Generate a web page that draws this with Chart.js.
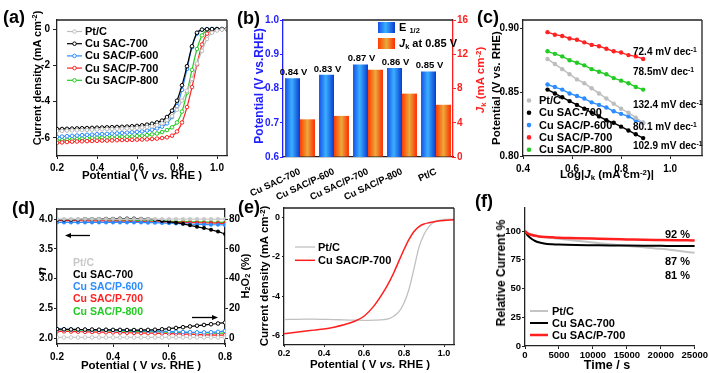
<!DOCTYPE html>
<html>
<head>
<meta charset="utf-8">
<script src="https://cdn.jsdelivr.net/npm/chart.js@4.4.1/dist/chart.umd.min.js"></script>
<style>
body { margin: 0; background: #fff; }
#fig { position: relative; width: 709px; height: 373px; overflow: hidden; font-family: 'Liberation Sans', Arial, sans-serif; font-weight: bold; color: #000; }
#fig canvas { position: absolute; }
.t { position: absolute; white-space: nowrap; line-height: 1; }
.lab { font-size: 18px; }
.h { font-size: 11.5px; transform: translate(-50%, -50%); }
.v { font-size: 11px; transform: translate(-50%, -50%) rotate(-90deg); }
.s { font-size: 10px; transform: translateY(-50%); }
.sw { position: absolute; }
sup { font-size: 0.68em; vertical-align: 0.45em; line-height: 0; }
sub { font-size: 0.68em; vertical-align: -0.25em; line-height: 0; }
</style>
</head>
<body>
<div id="fig">
  <canvas id="cA" width="235" height="185" style="left:0;top:0"></canvas>
  <canvas id="cB" width="240" height="200" style="left:235px;top:0"></canvas>
  <canvas id="cC" width="239" height="190" style="left:470px;top:0"></canvas>
  <canvas id="cD" width="255" height="188" style="left:0;top:185px"></canvas>
  <canvas id="cE" width="215" height="188" style="left:250px;top:185px"></canvas>
  <canvas id="cF" width="239" height="188" style="left:470px;top:185px"></canvas>

  <!-- panel letters -->
  <div class="t lab" style="left:3px;top:8px">(a)</div>
  <div class="t lab" style="left:237px;top:9px">(b)</div>
  <div class="t lab" style="left:477px;top:8px">(c)</div>
  <div class="t lab" style="left:12px;top:199px">(d)</div>
  <div class="t lab" style="left:238px;top:198px">(e)</div>
  <div class="t lab" style="left:475px;top:192px">(f)</div>

  <!-- axis titles -->
  <div class="t v" style="left:37px;top:78px">Current density (mA cm<sup>-2</sup>)</div>
  <div class="t h" style="left:142px;top:176px">Potential ( V <i>vs.</i> RHE )</div>

  <div class="t v" style="left:259px;top:86px;color:#1f1fff;font-size:12px">Potential (V vs.RHE)</div>
  <div class="t v" style="left:481px;top:80px;color:#ff1f1f;font-size:11.5px"><i>J</i><sub>k</sub> (mA cm<sup>-2</sup>)</div>
  <div class="sw" style="left:378px;top:22px;width:17px;height:11px;background:linear-gradient(to right,#1550e8,#3ab0ff 45%,#0a3ad0)"></div>
  <div class="t" style="left:399px;top:22px;font-size:11px">E <sub>1/2</sub></div>
  <div class="sw" style="left:378px;top:38px;width:17px;height:11px;background:linear-gradient(to right,#ff3c00,#e9aa3c 50%,#ff2a00)"></div>
  <div class="t" style="left:399px;top:38px;font-size:11px"><i>J</i><sub>k</sub> at 0.85 V</div>

  <div class="t v" style="left:497px;top:88px;font-size:11.5px">Potential (V vs. RHE)</div>
  <div class="t h" style="left:607px;top:175px">Log|<i>J</i><sub>k</sub> (mA cm<sup>-2</sup>)|</div>
  <div class="t s" style="left:633px;top:52px">72.4 mV dec<sup>-1</sup></div>
  <div class="t s" style="left:633px;top:72px">78.5mV dec<sup>-1</sup></div>
  <div class="t s" style="left:633px;top:105px">132.4 mV dec<sup>-1</sup></div>
  <div class="t s" style="left:633px;top:127px">80.1 mV dec<sup>-1</sup></div>
  <div class="t s" style="left:633px;top:146px">102.9 mV dec<sup>-1</sup></div>

  <div class="t v" style="left:41px;top:271px;font-size:13px"><i>n</i></div>
  <div class="t v" style="left:245px;top:276px">H<sub>2</sub>O<sub>2</sub> (%)</div>
  <div class="t h" style="left:141px;top:366px">Potential ( V <i>vs.</i> RHE )</div>

  <div class="t v" style="left:265px;top:276px;font-size:11.5px">Current density (mA cm<sup>-2</sup>)</div>
  <div class="t h" style="left:370px;top:365px">Potential ( V <i>vs.</i> RHE )</div>

  <div class="t v" style="left:501px;top:273px;font-size:12px">Relative Current %</div>
  <div class="t h" style="left:607px;top:365px;font-size:12.5px">Time / s</div>
  <div class="t" style="right:19px;top:229px;font-size:11px">92 %</div>
  <div class="t" style="right:19px;top:256px;font-size:11px">87 %</div>
  <div class="t" style="right:19px;top:270px;font-size:11px">81 %</div>
</div>

<script>
"use strict";

// ---- data ----
const seriesNames = ['Pt/C', 'Cu SAC-700', 'Cu SAC/P-600', 'Cu SAC/P-700', 'Cu SAC/P-800'];
const seriesColors = ['#bdbdbd', '#000000', '#2d8cff', '#ff2222', '#22cc22'];

// (a) LSV
const potA = [0.2, 0.225, 0.25, 0.275, 0.3, 0.325, 0.35, 0.375, 0.4, 0.425, 0.45, 0.475, 0.5, 0.525, 0.55, 0.575,
    0.6, 0.625, 0.65, 0.675, 0.7, 0.725, 0.75, 0.775, 0.8, 0.825, 0.85, 0.875, 0.9, 0.925, 0.95, 0.975, 1.0, 1.025, 1.05];
const lsvPtC = [-5.62, -5.61, -5.60, -5.59, -5.58, -5.57, -5.56, -5.55, -5.54, -5.53, -5.52, -5.51, -5.50, -5.49, -5.48, -5.47,
    -5.45, -5.43, -5.40, -5.36, -5.30, -5.20, -5.03, -4.80, -4.45, -3.95, -3.40, -2.75, -1.90, -1.20, -0.55, -0.20, -0.08, -0.03, 0];
const lsvSAC700 = [-5.52, -5.51, -5.50, -5.49, -5.48, -5.47, -5.46, -5.45, -5.44, -5.43, -5.42, -5.41, -5.40, -5.39, -5.38, -5.36,
    -5.34, -5.31, -5.27, -5.22, -5.15, -5.05, -4.85, -4.50, -3.95, -3.10, -2.05, -0.95, -0.20, -0.03, -0.01, 0, 0, 0, 0];
const lsvP600 = [-5.95, -5.93, -5.91, -5.89, -5.87, -5.85, -5.83, -5.82, -5.80, -5.79, -5.78, -5.76, -5.75, -5.73, -5.71, -5.69,
    -5.67, -5.64, -5.60, -5.55, -5.48, -5.38, -5.20, -4.85, -4.25, -3.35, -2.20, -1.00, -0.25, -0.04, 0, 0, 0, 0, 0];
const lsvP700 = [-6.27, -6.25, -6.23, -6.21, -6.20, -6.19, -6.18, -6.17, -6.16, -6.15, -6.15, -6.14, -6.13, -6.12, -6.12, -6.11,
    -6.10, -6.09, -6.08, -6.06, -6.04, -6.01, -5.97, -5.88, -5.65, -5.15, -4.30, -3.20, -1.95, -0.85, -0.25, -0.08, -0.02, 0, 0];
const lsvP800 = [-6.15, -6.12, -6.10, -6.08, -6.06, -6.04, -6.02, -6.00, -5.99, -5.98, -5.97, -5.96, -5.95, -5.94, -5.93, -5.92,
    -5.90, -5.88, -5.85, -5.81, -5.76, -5.68, -5.57, -5.42, -5.15, -4.55, -3.50, -2.25, -1.10, -0.35, -0.05, 0, 0, 0, 0];

// (b) E1/2 and Jk
const catB = ['Cu SAC-700', 'Cu SAC/P-600', 'Cu SAC/P-700', 'Cu SAC/P-800', 'Pt/C'];
const halfWave = [0.83, 0.84, 0.87, 0.86, 0.85];
const halfWaveText = ['0.84 V', '0.83 V', '0.87 V', '0.86 V', '0.85 V'];
const jkAt085 = [4.4, 4.8, 10.2, 7.4, 6.1];

// (c) Tafel
const logJk = [0.50, 0.53, 0.56, 0.59, 0.62, 0.65, 0.68, 0.71, 0.74, 0.77, 0.80, 0.83, 0.86, 0.89];
const tafelPtC = [0.876, 0.872, 0.868, 0.864, 0.860, 0.857, 0.853, 0.849, 0.845, 0.841, 0.837, 0.834, 0.830, 0.826];
const tafelSAC700 = [0.852, 0.849, 0.846, 0.843, 0.840, 0.837, 0.834, 0.831, 0.828, 0.826, 0.823, 0.820, 0.817, 0.814];
const tafelP600 = [0.856, 0.854, 0.852, 0.849, 0.847, 0.845, 0.842, 0.840, 0.838, 0.835, 0.833, 0.831, 0.828, 0.826];
const tafelP700 = [0.897, 0.895, 0.894, 0.892, 0.891, 0.889, 0.887, 0.886, 0.884, 0.882, 0.881, 0.879, 0.878, 0.876];
const tafelP800 = [0.882, 0.880, 0.878, 0.875, 0.873, 0.871, 0.868, 0.866, 0.864, 0.861, 0.859, 0.857, 0.854, 0.852];

// (d) electron number n and H2O2 yield
const potD = [0.2, 0.225, 0.25, 0.275, 0.3, 0.325, 0.35, 0.375, 0.4, 0.425, 0.45, 0.475, 0.5,
    0.525, 0.55, 0.575, 0.6, 0.625, 0.65, 0.675, 0.7, 0.725, 0.75, 0.775, 0.8];
const nPtC = [4.0, 4.0, 4.0, 4.0, 4.0, 4.0, 4.0, 4.0, 4.0, 4.0, 4.0, 4.0, 4.0,
    4.0, 4.0, 4.0, 4.0, 4.0, 4.0, 4.0, 4.0, 4.0, 4.0, 4.0, 4.0];
const nSAC700 = [3.99, 3.99, 3.99, 3.995, 4.0, 4.0, 4.0, 4.005, 4.005, 4.01, 4.01, 4.01, 4.005,
    4.0, 3.99, 3.97, 3.955, 3.94, 3.92, 3.895, 3.87, 3.85, 3.82, 3.79, 3.75];
const nP600 = [3.945, 3.945, 3.945, 3.945, 3.945, 3.945, 3.945, 3.945, 3.945, 3.945, 3.945, 3.945, 3.945,
    3.94, 3.94, 3.935, 3.93, 3.925, 3.92, 3.915, 3.91, 3.91, 3.905, 3.905, 3.90];
const nP700 = [3.975, 3.975, 3.975, 3.975, 3.97, 3.97, 3.97, 3.97, 3.965, 3.965, 3.965, 3.96, 3.96,
    3.955, 3.955, 3.95, 3.95, 3.945, 3.945, 3.94, 3.94, 3.935, 3.935, 3.93, 3.93];
const nP800 = [3.99, 3.99, 3.99, 3.99, 3.99, 3.985, 3.985, 3.985, 3.98, 3.98, 3.98, 3.975, 3.975,
    3.97, 3.97, 3.965, 3.965, 3.96, 3.96, 3.955, 3.955, 3.95, 3.95, 3.945, 3.945];
const h2o2PtC = [0.4, 0.4, 0.4, 0.4, 0.4, 0.4, 0.4, 0.4, 0.4, 0.4, 0.4, 0.4, 0.4,
    0.4, 0.4, 0.4, 0.4, 0.4, 0.4, 0.4, 0.4, 0.4, 0.4, 0.4, 0.4];
const h2o2SAC700 = [6.0, 5.9, 5.8, 5.8, 5.7, 5.7, 5.6, 5.6, 5.5, 5.5, 5.4, 5.4, 5.4,
    5.5, 5.6, 5.9, 6.3, 6.8, 7.3, 7.8, 8.3, 8.8, 9.3, 9.8, 10.4];
const h2o2P600 = [6.0, 5.9, 5.8, 5.7, 5.6, 5.5, 5.4, 5.4, 5.3, 5.2, 5.2, 5.1, 5.0,
    4.9, 4.8, 4.6, 4.4, 4.2, 4.0, 3.9, 3.8, 3.8, 3.9, 4.2, 4.8];
const h2o2P700 = [4.6, 4.5, 4.4, 4.3, 4.2, 4.1, 4.0, 3.9, 3.8, 3.7, 3.6, 3.5, 3.4,
    3.3, 3.2, 3.1, 3.0, 2.9, 2.7, 2.6, 2.4, 2.3, 2.1, 2.0, 1.9];
const h2o2P800 = [5.6, 5.5, 5.4, 5.3, 5.2, 5.1, 5.0, 4.9, 4.8, 4.7, 4.6, 4.5, 4.4,
    4.3, 4.2, 4.1, 4.0, 3.9, 3.8, 3.7, 3.6, 3.5, 3.4, 3.3, 3.2];

// (e) LSV after stability test
const potE = [0.2, 0.25, 0.3, 0.35, 0.4, 0.45, 0.5, 0.55, 0.6, 0.65, 0.7, 0.725, 0.75, 0.775,
    0.8, 0.825, 0.85, 0.875, 0.9, 0.925, 0.95, 1.0, 1.05];
const lsvE_PtC = [-5.2, -5.19, -5.18, -5.18, -5.19, -5.2, -5.22, -5.23, -5.24, -5.23, -5.2, -5.15, -5.02, -4.8,
    -4.35, -3.65, -2.6, -1.5, -0.85, -0.45, -0.22, -0.08, -0.07];
const lsvE_P700 = [-5.92, -5.86, -5.8, -5.74, -5.68, -5.59, -5.47, -5.3, -5.03, -4.5, -3.75, -3.3, -2.78, -2.2,
    -1.62, -1.1, -0.7, -0.45, -0.32, -0.25, -0.2, -0.14, -0.1];

// (f) chronoamperometry
const timeF = [0, 250, 500, 1000, 1500, 2000, 3000, 4000, 5000, 7500, 10000, 12500, 15000, 17500, 20000, 22500, 25000];
const itPtC = [100, 98.8, 98, 97, 96.2, 95.5, 94.5, 93.8, 93.2, 91.6, 90, 88.5, 87, 85.8, 84.5, 82.8, 81];
const itSAC700 = [100, 97.5, 95.5, 93, 91.3, 90.2, 89, 88.5, 88.2, 87.8, 87.6, 87.4, 87.3, 87.2, 87.1, 87.0, 87.0];
const itP700 = [100, 98.5, 97.6, 96.5, 95.8, 95.3, 94.8, 94.5, 94.2, 93.8, 93.4, 93.0, 92.7, 92.4, 92.2, 92.0, 91.8];

// ---- setup ----
const FONT = "'Liberation Sans', Arial, sans-serif";
Chart.defaults.font.family = FONT;
Chart.defaults.font.weight = 'bold';
Chart.defaults.font.size = 10;
Chart.defaults.color = '#000';
Chart.defaults.animation = false;
Chart.defaults.responsive = false;
Chart.defaults.devicePixelRatio = 1;
Chart.defaults.events = [];
Chart.defaults.plugins.legend.display = false;
Chart.defaults.plugins.tooltip.enabled = false;

const BAR_CAT = 0.88;

function pairs(xs, ys) {
    return xs.map((x, i) => ({ x: x, y: ys[i] }));
}

// linear axis with fixed ticks and fixed box size
function axis(o) {
    const vertical = o.pos === 'left' || o.pos === 'right';
    return {
        type: 'linear',
        position: o.pos,
        min: o.min,
        max: o.max,
        afterBuildTicks: s => { s.ticks = o.ticks.map(v => ({ value: v })); },
        afterFit: s => { if (vertical) s.width = o.size; else s.height = o.size; },
        ticks: {
            color: o.color || '#000',
            font: { size: o.font || 10, weight: 'bold' },
            padding: o.pad === undefined ? 2 : o.pad,
            autoSkip: false,
            maxRotation: 0,
            callback: v => (o.fmt ? o.fmt(v) : String(v))
        },
        grid: {
            display: true,
            drawOnChartArea: false,
            drawTicks: true,
            tickLength: o.tl === undefined ? 3 : o.tl,
            color: o.color || '#222',
            lineWidth: 1
        },
        border: { display: true, color: o.color || '#222', width: 1.3 }
    };
}

// top / right lines of the plot box
const framePlugin = {
    id: 'frame',
    defaults: {},
    afterDraw(chart, args, o) {
        if (!o.sides) return;
        const a = chart.chartArea;
        const c = chart.ctx;
        c.save();
        c.strokeStyle = o.color || '#222';
        c.lineWidth = 1.3;
        c.beginPath();
        if (o.sides.indexOf('t') >= 0) { c.moveTo(a.left, a.top); c.lineTo(a.right, a.top); }
        if (o.sides.indexOf('r') >= 0) { c.moveTo(a.right, a.top); c.lineTo(a.right, a.bottom); }
        c.stroke();
        c.restore();
    }
};

// legend drawn inside the plot, from the dataset labels and colours
const innerLegend = {
    id: 'innerLegend',
    defaults: {},
    afterDatasetsDraw(chart, args, o) {
        if (!o.items) return;
        const c = chart.ctx;
        c.save();
        c.font = 'bold ' + (o.size || 11) + 'px ' + FONT;
        c.textBaseline = 'middle';
        c.textAlign = 'left';
        o.items.forEach((di, k) => {
            const ds = chart.data.datasets[di];
            const col = ds.borderColor;
            const y = o.y + k * o.dy;
            const len = o.line || 0;
            if (len) {
                c.strokeStyle = col;
                c.lineWidth = ds.borderWidth;
                c.beginPath();
                c.moveTo(o.x, y);
                c.lineTo(o.x + len, y);
                c.stroke();
            }
            if (o.marker) {
                c.beginPath();
                c.arc(o.x + len / 2, y, o.marker === 'dot' ? 2.3 : 1.8, 0, Math.PI * 2);
                c.fillStyle = o.marker === 'dot' ? col : '#fff';
                c.fill();
                if (o.marker !== 'dot') { c.lineWidth = 1; c.strokeStyle = col; c.stroke(); }
            }
            c.fillStyle = o.textColor ? col : '#000';
            c.fillText(ds.label, o.x + len + (o.gap || 3), y + 0.5);
        });
        c.restore();
    }
};

// value labels over the bars of one dataset
const barText = {
    id: 'barText',
    defaults: {},
    afterDatasetsDraw(chart, args, o) {
        if (!o.texts) return;
        const c = chart.ctx;
        const meta = chart.getDatasetMeta(o.dataset);
        c.save();
        c.font = 'bold 9.5px ' + FONT;
        c.fillStyle = '#000';
        c.textAlign = 'center';
        c.textBaseline = 'bottom';
        meta.data.forEach((b, i) => c.fillText(o.texts[i], b.x + 1, b.y - 1));
        c.restore();
    }
};

// arrows pointing to the axis a curve family belongs to
const arrowPlugin = {
    id: 'arrows',
    defaults: {},
    afterDraw(chart, args, o) {
        if (!o.list) return;
        const c = chart.ctx;
        c.save();
        c.strokeStyle = '#000';
        c.fillStyle = '#000';
        c.lineWidth = 1.3;
        o.list.forEach(a => {
            const dir = Math.sign(a.x2 - a.x1);
            c.beginPath();
            c.moveTo(a.x1, a.y);
            c.lineTo(a.x2 - dir * 4, a.y);
            c.stroke();
            c.beginPath();
            c.moveTo(a.x2, a.y);
            c.lineTo(a.x2 - dir * 6, a.y - 2.5);
            c.lineTo(a.x2 - dir * 6, a.y + 2.5);
            c.closePath();
            c.fill();
        });
        c.restore();
    }
};

Chart.register(framePlugin, innerLegend, barText, arrowPlugin);

// horizontal gradient for every bar, placed from the category scale
function barFill(stops) {
    return function (c) {
        const chart = c.chart;
        const xs = chart.scales.x;
        if (!xs || c.type !== 'data' || !xs.width) return stops[1][1];
        const cw = xs.width / chart.data.labels.length;
        const slot = cw * BAR_CAT / 2;
        const x0 = xs.getPixelForValue(c.dataIndex) - slot + slot * c.datasetIndex;
        const g = chart.ctx.createLinearGradient(x0, 0, x0 + slot, 0);
        stops.forEach(s => g.addColorStop(s[0], s[1]));
        return g;
    };
}

function hollowSet(label, color, xs, ys, extra) {
    return Object.assign({
        label: label,
        data: pairs(xs, ys),
        borderColor: color,
        backgroundColor: '#fff',
        borderWidth: 1.2,
        pointRadius: 1.8,
        pointBorderWidth: 1,
        pointBackgroundColor: '#fff',
        pointBorderColor: color,
        tension: 0.3
    }, extra || {});
}

// ---- (a) ----
const lsvA = [lsvPtC, lsvSAC700, lsvP600, lsvP700, lsvP800];
new Chart(document.getElementById('cA'), {
    type: 'line',
    data: { datasets: lsvA.map((ys, i) => hollowSet(seriesNames[i], seriesColors[i], potA, ys)) },
    options: {
        layout: { padding: { top: 20, right: 8, left: 0, bottom: 0 } },
        scales: {
            x: axis({ pos: 'bottom', min: 0.2, max: 1.05, ticks: [0.2, 0.4, 0.6, 0.8, 1.0], size: 29, tl: 3, pad: 3, fmt: v => v.toFixed(1) }),
            y: axis({ pos: 'left', min: -7, max: 0.5, ticks: [0, -2, -4, -6], size: 57, tl: 4, pad: 3 })
        },
        plugins: {
            frame: { sides: 'tr' },
            innerLegend: { items: [0, 1, 2, 3, 4], x: 67, y: 31.5, dy: 12.2, line: 15, marker: 'hollow', size: 11 }
        }
    }
});

// ---- (b) ----
new Chart(document.getElementById('cB'), {
    type: 'bar',
    data: {
        labels: catB,
        datasets: [
            {
                label: 'E1/2', data: halfWave, yAxisID: 'y',
                backgroundColor: barFill([[0, '#1550e8'], [0.45, '#3ab0ff'], [1, '#0a3ad0']]),
                categoryPercentage: BAR_CAT, barPercentage: 1.0, borderWidth: 0
            },
            {
                label: 'Jk at 0.85 V', data: jkAt085, yAxisID: 'y1',
                backgroundColor: barFill([[0, '#ff3c00'], [0.5, '#e9aa3c'], [1, '#ff2a00']]),
                categoryPercentage: BAR_CAT, barPercentage: 1.0, borderWidth: 0
            }
        ]
    },
    options: {
        layout: { padding: { top: 20, right: 0, left: 0, bottom: 0 } },
        scales: {
            x: {
                type: 'category',
                offset: true,
                afterFit: s => { s.height = 43; },
                grid: { display: false },
                border: { display: true, color: '#222', width: 1.3 },
                ticks: { font: { size: 9.5, weight: 'bold' }, minRotation: 25, maxRotation: 25, padding: 1, autoSkip: false }
            },
            y: axis({ pos: 'left', min: 0.6, max: 1.0, ticks: [0.6, 0.7, 0.8, 0.9, 1.0], size: 48, tl: 3, pad: 1, color: '#1f1fff', fmt: v => v.toFixed(1) }),
            y1: axis({ pos: 'right', min: 0, max: 16, ticks: [0, 4, 8, 12, 16], size: 22, tl: 3, pad: 1, color: '#ff1f1f' })
        },
        plugins: {
            frame: { sides: 't' },
            barText: { dataset: 0, texts: halfWaveText }
        }
    }
});

// ---- (c) ----
const tafel = [tafelPtC, tafelSAC700, tafelP600, tafelP700, tafelP800];
new Chart(document.getElementById('cC'), {
    type: 'line',
    data: {
        datasets: tafel.map((ys, i) => ({
            label: seriesNames[i],
            data: pairs(logJk, ys),
            borderColor: seriesColors[i],
            backgroundColor: seriesColors[i],
            borderWidth: 1.4,
            pointRadius: 2.2,
            pointBorderWidth: 0,
            tension: 0
        }))
    },
    options: {
        layout: { padding: { top: 20, right: 7, left: 0, bottom: 0 } },
        scales: {
            x: axis({ pos: 'bottom', min: 0.4, max: 1.13, ticks: [0.4, 0.6, 0.8, 1.0], size: 34, tl: 3, pad: 4, fmt: v => v.toFixed(1) }),
            y: axis({ pos: 'left', min: 0.8, max: 0.9065, ticks: [0.80, 0.85, 0.90], size: 53, tl: 3, pad: 1, fmt: v => v.toFixed(2) })
        },
        plugins: {
            frame: { sides: 'tr' },
            innerLegend: { items: [0, 1, 2, 3, 4], x: 59, y: 100.5, dy: 12.3, line: 0, marker: 'dot', gap: 10, size: 11 }
        }
    }
});

// ---- (d) ----
const nSets = [nPtC, nSAC700, nP600, nP700, nP800];
const hSets = [h2o2PtC, h2o2SAC700, h2o2P600, h2o2P700, h2o2P800];
const dColors = ['#c8c8c8', '#000000', '#2d8cff', '#ff2222', '#22cc22'];
const dSets = [];
nSets.forEach((ys, i) => dSets.push({
    label: seriesNames[i], data: pairs(potD, ys), yAxisID: 'y',
    borderColor: dColors[i], backgroundColor: dColors[i], borderWidth: 1.2,
    pointRadius: 2, pointBorderWidth: 0, pointBackgroundColor: dColors[i], tension: 0.3
}));
hSets.forEach((ys, i) => dSets.push(hollowSet(seriesNames[i], dColors[i], potD, ys, { yAxisID: 'y1' })));
new Chart(document.getElementById('cD'), {
    type: 'line',
    data: { datasets: dSets },
    options: {
        layout: { padding: { top: 24, right: 0, left: 0, bottom: 0 } },
        scales: {
            x: axis({ pos: 'bottom', min: 0.2, max: 0.8, ticks: [0.2, 0.4, 0.6, 0.8], size: 29, tl: 3, pad: 4, fmt: v => v.toFixed(1) }),
            y: axis({ pos: 'left', min: 1.9, max: 4.17, ticks: [2.0, 2.5, 3.0, 3.5, 4.0], size: 57, tl: 3, pad: 1, fmt: v => v.toFixed(1) }),
            y1: axis({ pos: 'right', min: -4, max: 86.8, ticks: [0, 20, 40, 60, 80], size: 30, tl: 3, pad: 1 })
        },
        plugins: {
            frame: { sides: 't' },
            innerLegend: { items: [0, 1, 2, 3, 4], x: 70, y: 77.5, dy: 12.2, line: 0, gap: 0, textColor: true, size: 10.5 },
            arrows: { list: [{ x1: 90, x2: 65, y: 50.5 }, { x1: 192, x2: 218, y: 132.5 }] }
        }
    }
});

// ---- (e) ----
new Chart(document.getElementById('cE'), {
    type: 'line',
    data: {
        datasets: [
            { label: 'Pt/C', data: pairs(potE, lsvE_PtC), borderColor: '#c0c0c0', borderWidth: 1.3, pointRadius: 0, cubicInterpolationMode: 'monotone', order: 2 },
            { label: 'Cu SAC/P-700', data: pairs(potE, lsvE_P700), borderColor: '#ff1f1f', borderWidth: 1.5, pointRadius: 0, cubicInterpolationMode: 'monotone', order: 1 }
        ]
    },
    options: {
        layout: { padding: { top: 23, right: 11, left: 0, bottom: 0 } },
        scales: {
            x: axis({ pos: 'bottom', min: 0.2, max: 1.05, ticks: [0.2, 0.4, 0.6, 0.8, 1.0], size: 28, tl: 2, pad: 1, font: 9, fmt: v => v.toFixed(1) }),
            y: axis({ pos: 'left', min: -6.5, max: 0.5, ticks: [0, -2, -4, -6], size: 34, tl: 2, pad: 2, font: 9 })
        },
        plugins: {
            frame: { sides: 'tr' },
            innerLegend: { items: [0, 1], x: 45, y: 62, dy: 13.3, line: 20, gap: 3, size: 11 }
        }
    }
});

// ---- (f) ----
new Chart(document.getElementById('cF'), {
    type: 'line',
    data: {
        datasets: [
            { label: 'Pt/C', data: pairs(timeF, itPtC), borderColor: '#c4c4c4', borderWidth: 2, pointRadius: 0, cubicInterpolationMode: 'monotone', order: 3 },
            { label: 'Cu SAC-700', data: pairs(timeF, itSAC700), borderColor: '#000000', borderWidth: 2, pointRadius: 0, cubicInterpolationMode: 'monotone', order: 2 },
            { label: 'Cu SAC/P-700', data: pairs(timeF, itP700), borderColor: '#ff1f1f', borderWidth: 2.5, pointRadius: 0, cubicInterpolationMode: 'monotone', order: 1 }
        ]
    },
    options: {
        layout: { padding: { top: 23, right: 13, left: 0, bottom: 0 } },
        scales: {
            x: axis({ pos: 'bottom', min: 0, max: 25000, ticks: [0, 5000, 10000, 15000, 20000, 25000], size: 27, tl: 3, pad: 1, font: 9.5 }),
            y: axis({ pos: 'left', min: 0, max: 120, ticks: [0, 25, 50, 75, 100], size: 55, tl: 3, pad: 1, font: 9.5 })
        },
        plugins: {
            innerLegend: { items: [0, 1, 2], x: 60, y: 126, dy: 12, line: 18, gap: 4, size: 11 }
        }
    }
});
</script>
</body>
</html>
